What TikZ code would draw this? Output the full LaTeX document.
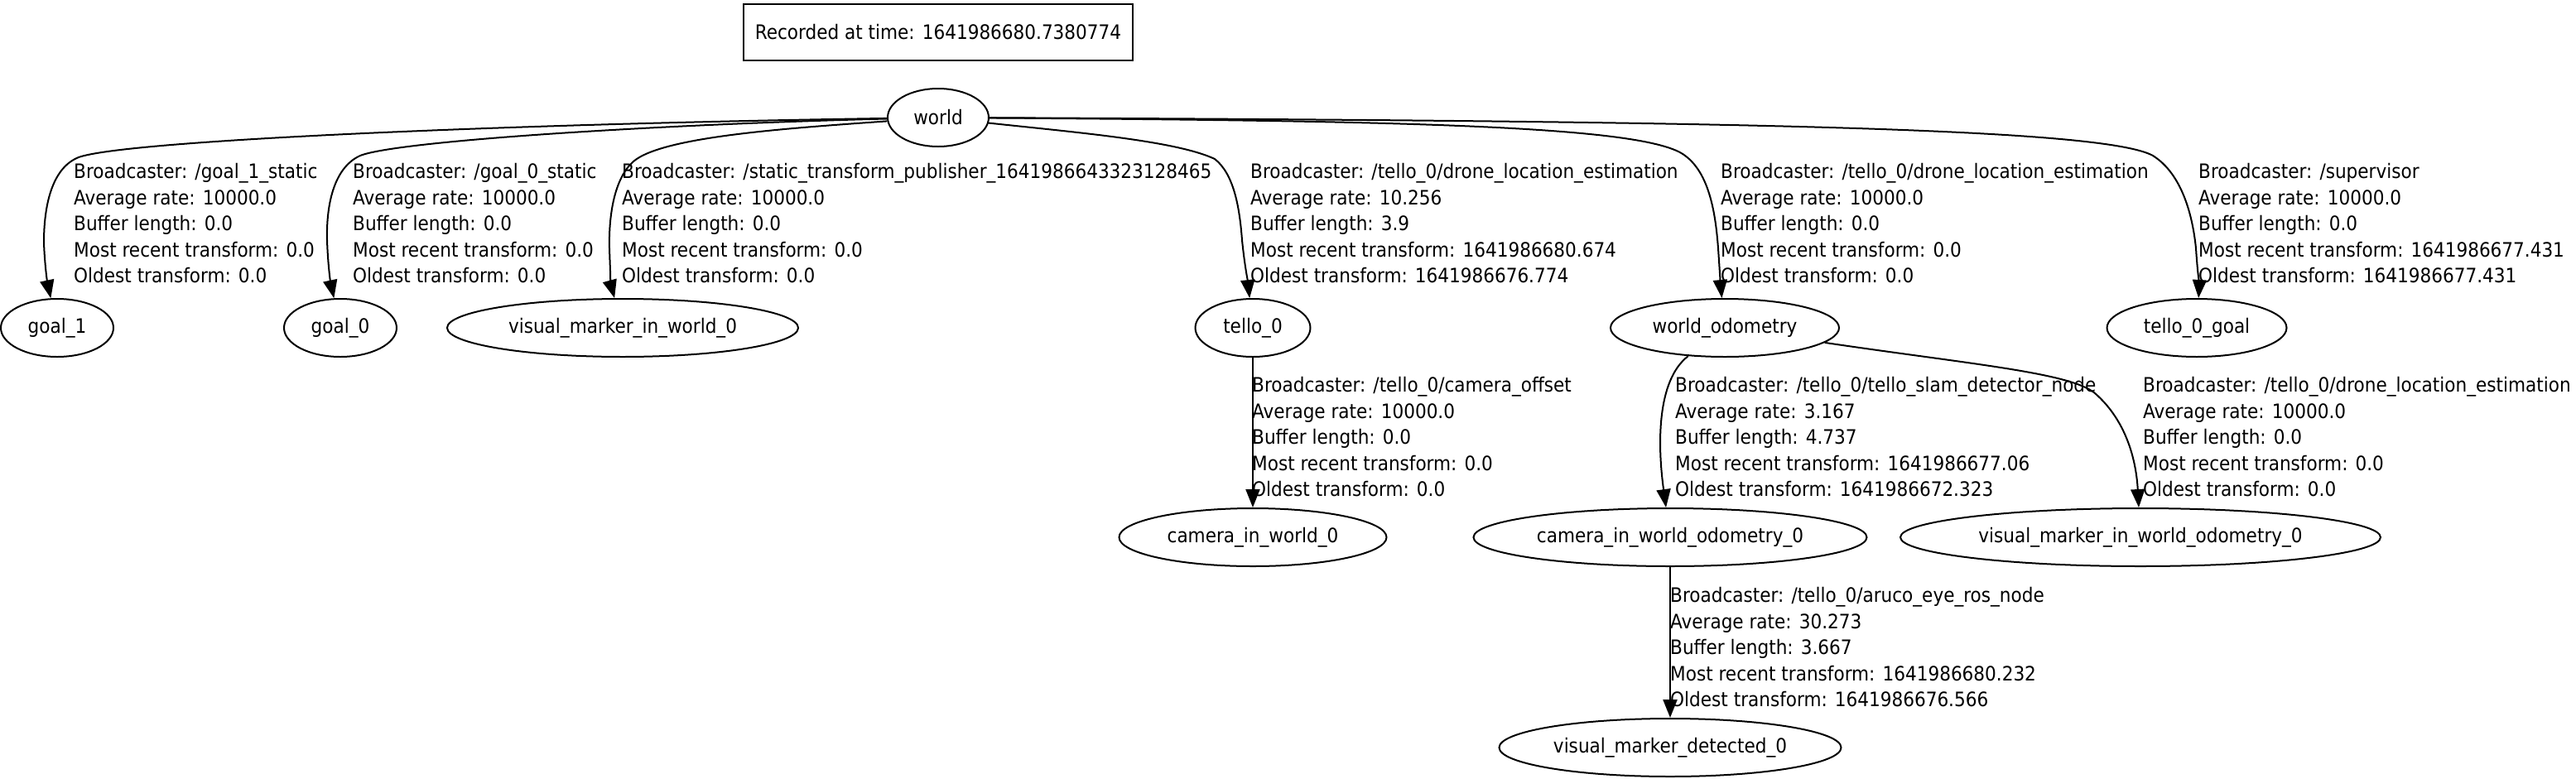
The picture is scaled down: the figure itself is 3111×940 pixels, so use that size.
\documentclass[tikz,border=0pt]{standalone}
\usepackage{fontspec}
\setmainfont{DejaVu Sans Condensed}
\usetikzlibrary{arrows.meta,shapes.geometric}
\begin{document}
\begin{tikzpicture}[x=1pt,y=-1pt,
  every node/.style={font=\fontsize{24}{31.5}\selectfont},
  nd/.style={draw, ellipse, line width=2pt, minimum height=70pt, inner sep=0pt},
  recbox/.style={draw, rectangle, line width=2pt, minimum height=68pt, minimum width=470pt, inner sep=0pt},
  edge/.style={line width=2pt, -{Triangle[length=22pt,width=17pt]}},
  lbl/.style={anchor=west, align=left, inner sep=0pt}]
\useasboundingbox (0,0) rectangle (3111,940);
\node[recbox] (rec) at (1133,39) {Recorded at time: 1641986680.7380774};
\node[nd, minimum width=122pt] (world) at (1133,142) {world};
\node[nd, minimum width=136pt] (goal1) at (69,396) {goal\_1};
\node[nd, minimum width=136pt] (goal0) at (411,396) {goal\_0};
\node[nd, minimum width=424pt] (vm0) at (752,396) {visual\_marker\_in\_world\_0};
\node[nd, minimum width=139pt] (tello0) at (1513,396) {tello\_0};
\node[nd, minimum width=276pt] (wodom) at (2083,396) {world\_odometry};
\node[nd, minimum width=217pt] (tgoal) at (2653,396) {tello\_0\_goal};
\node[nd, minimum width=323pt] (ciw0) at (1513,649) {camera\_in\_world\_0};
\node[nd, minimum width=475pt] (ciwo) at (2017,649) {camera\_in\_world\_odometry\_0};
\node[nd, minimum width=580pt] (vmwo) at (2585,649) {visual\_marker\_in\_world\_odometry\_0};
\node[nd, minimum width=413pt] (vmdet) at (2017,903) {visual\_marker\_detected\_0};

\draw[edge] (world) .. controls (600,150) and (150,170) .. (95,190) .. controls (62,203) and (53,250) .. (53,293) .. controls (54,320) and (57,340) .. (goal1);
\draw[edge] (world) .. controls (800,150) and (480,170) .. (435,188) .. controls (402,203) and (394,250) .. (395,290) .. controls (396,320) and (399,340) .. (goal0);
\draw[edge] (world) .. controls (950,155) and (800,165) .. (765,195) .. controls (742,215) and (735,260) .. (736,300) .. controls (737,330) and (738,345) .. (vm0);
\draw[edge] (world) .. controls (1300,160) and (1420,170) .. (1467,192) .. controls (1490,210) and (1497,250) .. (1500,290) .. controls (1503,320) and (1507,340) .. (tello0);
\draw[edge] (world) .. controls (1700,146) and (1990,152) .. (2035,188) .. controls (2065,210) and (2072,260) .. (2075,300) .. controls (2077,330) and (2078,345) .. (wodom);
\draw[edge] (world) .. controls (2100,146) and (2540,155) .. (2600,188) .. controls (2635,210) and (2648,260) .. (2652,300) .. controls (2654,330) and (2656,345) .. (tgoal);
\draw[edge] (tello0) -- (ciw0);
\draw[edge] (wodom) .. controls (2000,460) and (2002,540) .. (ciwo);
\draw[edge] (wodom) .. controls (2380,440) and (2500,450) .. (2530,475) .. controls (2570,510) and (2580,560) .. (vmwo);
\draw[edge] (ciwo) -- (vmdet);

\node[lbl] (l1) at (89,270) {Broadcaster: /goal\_1\_static\\Average rate: 10000.0\\Buffer length: 0.0\\Most recent transform: 0.0\\Oldest transform: 0.0};
\node[lbl] (l2) at (426,270) {Broadcaster: /goal\_0\_static\\Average rate: 10000.0\\Buffer length: 0.0\\Most recent transform: 0.0\\Oldest transform: 0.0};
\node[lbl] (l3) at (751,270) {Broadcaster: /static\_transform\_publisher\_1641986643323128465\\Average rate: 10000.0\\Buffer length: 0.0\\Most recent transform: 0.0\\Oldest transform: 0.0};
\node[lbl] (l4) at (1510,270) {Broadcaster: /tello\_0/drone\_location\_estimation\\Average rate: 10.256\\Buffer length: 3.9\\Most recent transform: 1641986680.674\\Oldest transform: 1641986676.774};
\node[lbl] (l5) at (2078,270) {Broadcaster: /tello\_0/drone\_location\_estimation\\Average rate: 10000.0\\Buffer length: 0.0\\Most recent transform: 0.0\\Oldest transform: 0.0};
\node[lbl] (l6) at (2655,270) {Broadcaster: /supervisor\\Average rate: 10000.0\\Buffer length: 0.0\\Most recent transform: 1641986677.431\\Oldest transform: 1641986677.431};
\node[lbl] (l7) at (1512,528) {Broadcaster: /tello\_0/camera\_offset\\Average rate: 10000.0\\Buffer length: 0.0\\Most recent transform: 0.0\\Oldest transform: 0.0};
\node[lbl] (l8) at (2023,528) {Broadcaster: /tello\_0/tello\_slam\_detector\_node\\Average rate: 3.167\\Buffer length: 4.737\\Most recent transform: 1641986677.06\\Oldest transform: 1641986672.323};
\node[lbl] (l9) at (2588,528) {Broadcaster: /tello\_0/drone\_location\_estimation\\Average rate: 10000.0\\Buffer length: 0.0\\Most recent transform: 0.0\\Oldest transform: 0.0};
\node[lbl] (l10) at (2017,782) {Broadcaster: /tello\_0/aruco\_eye\_ros\_node\\Average rate: 30.273\\Buffer length: 3.667\\Most recent transform: 1641986680.232\\Oldest transform: 1641986676.566};
\end{tikzpicture}
\end{document}
